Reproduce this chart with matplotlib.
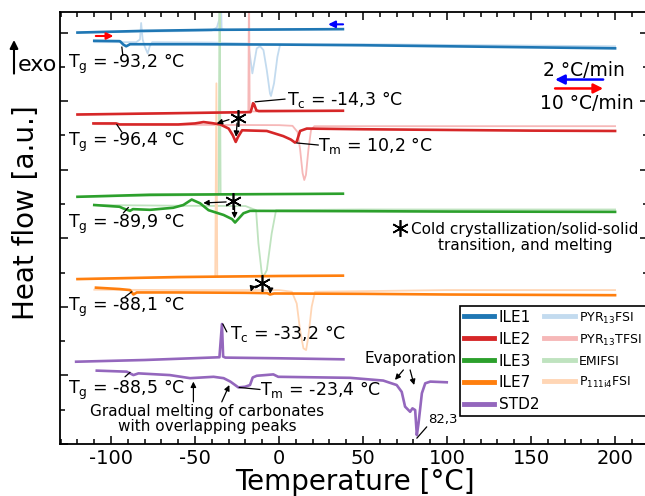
import numpy as np
import matplotlib
matplotlib.use('Agg')
import matplotlib.pyplot as plt
from matplotlib.ticker import MultipleLocator

plt.rcParams['axes.unicode_minus'] = False
plt.rcParams['font.family'] = ['DejaVu Sans']

## DATA (T in degC, heat flow in a.u.)

# ILE1 / PYR13FSI
ile1_cool_T = [-120, -80, -40, 0, 38]
ile1_cool_hf = [12.00, 12.05, 12.08, 12.09, 12.10]
ile1_heat_T = [-110, -95, -94.5, -92.7, -91, -88.7, -50, 0, 50, 100, 150, 200]
ile1_heat_hf = [11.76, 11.75, 11.74, 11.65, 11.60, 11.66, 11.66, 11.65, 11.63, 11.60, 11.57, 11.54]
pyr13fsi_cool_T = [-120, -60, -40, -37, -35.5, -34.8, -34.2, -32, 0, 38]
pyr13fsi_cool_hf = [12.00, 12.04, 12.06, 12.15, 12.40, 13.50, 12.10, 12.08, 12.09, 12.10]
pyr13fsi_heat_T = [-110, -85, -82.8, -82.1, -81.2, -80, -78.2, -77, -75.5, -40, -18.3, -15.9, -13.3,
                   -11.3, -9.3, -7.3, -5.4, -4.8, -3, -1, 0.6, 50, 100, 150, 200]
pyr13fsi_heat_hf = [11.72, 11.72, 11.80, 12.28, 11.80, 11.60, 11.39, 11.60, 11.72, 11.71, 11.68, 10.81, 11.54,
                    11.60, 11.49, 10.90, 10.22, 10.15, 10.52, 11.29, 11.65, 11.66, 11.64, 11.62, 11.60]

# ILE2 / PYR13TFSI
ile2_cool_T = [-120, -60, -17, -16.2, -15.5, -14.8, -13.5, -12, 38]
ile2_cool_hf = [9.61, 9.65, 9.68, 9.80, 9.94, 9.90, 9.73, 9.71, 9.72]
ile2_heat_T = [-110.5, -97, -95, -80, -60, -50, -45, -40, -35, -30, -27.5, -25.8, -24.5, -22, -15,
               -7.3, 2.5, 7, 9.5, 10.5, 12.5, 16.5, 50, 100, 150, 200]
ile2_heat_hf = [9.35, 9.35, 9.32, 9.32, 9.32, 9.35, 9.39, 9.36, 9.32, 9.20, 9.00, 8.81, 8.95, 9.15, 9.14,
                9.13, 8.98, 8.88, 8.79, 8.82, 9.13, 9.20, 9.18, 9.16, 9.14, 9.13]
pyr13tfsi_cool_T = [-120, -60, -18.3, -17.9, -17.5, -16, 38]
pyr13tfsi_cool_hf = [9.61, 9.65, 9.68, 13.5, 9.70, 9.70, 9.72]
pyr13tfsi_heat_T = [-110, -60, 0, 8, 11, 12.5, 14, 15, 16, 17.5, 19, 21, 100, 200]
pyr13tfsi_heat_hf = [9.33, 9.31, 9.30, 9.28, 9.10, 8.60, 7.90, 7.70, 7.85, 8.60, 9.15, 9.27, 9.27, 9.27]

# ILE3 / EMIFSI
ile3_cool_T = [-120, -77, 0, 38]
ile3_cool_hf = [7.21, 7.27, 7.29, 7.30]
ile3_heat_T = [-110, -95, -92.7, -88.7, -87, -76.8, -63, -57, -52, -47, -42, -33, -28, -26.2, -21.2,
               -17.3, 50, 100, 200]
ile3_heat_hf = [6.97, 6.92, 6.87, 6.80, 6.85, 6.83, 6.89, 6.97, 7.13, 7.02, 6.82, 6.68, 6.56, 6.46, 6.73,
                6.80, 6.79, 6.78, 6.77]
emifsi_cool_T = [-120, -60, -36, -35.4, -34.8, 0, 38]
emifsi_cool_hf = [7.21, 7.25, 7.27, 13.5, 7.28, 7.29, 7.30]
emifsi_heat_T = [-110, -60, -20, -13.7, -12.3, -10.3, -9.3, -7.3, -4.4, -1.8, 50, 200]
emifsi_heat_hf = [6.97, 6.95, 6.94, 6.82, 5.85, 4.98, 4.88, 5.07, 6.14, 6.82, 6.84, 6.84]

# ILE7 / P111i4FSI
ile7_cool_T = [-120, -60, 0, 38]
ile7_cool_hf = [4.81, 4.87, 4.90, 4.91]
ile7_heat_T = [-109, -95, -88.7, -86.7, -84.7, -60, -20, -7, -5.4, -3, 50, 100, 200]
ile7_heat_hf = [4.56, 4.52, 4.49, 4.36, 4.42, 4.42, 4.41, 4.40, 4.36, 4.39, 4.38, 4.36, 4.34]
p111i4fsi_cool_T = [-120, -60, -38, -37.3, -36.8, 0, 38]
p111i4fsi_cool_hf = [4.81, 4.86, 4.87, 10.52, 4.88, 4.90, 4.91]
p111i4fsi_heat_T = [-110, -60, 0, 7.6, 10.5, 12.5, 14.5, 16.1, 17.4, 19.4, 21.4, 100, 200]
p111i4fsi_heat_hf = [4.50, 4.49, 4.49, 4.44, 4.10, 3.32, 2.79, 2.74, 3.13, 4.00, 4.44, 4.49, 4.49]

# STD2
std2_cool_T = [-120.8, -80, -35.5, -34.0, -33.3, -32, 0, 38.3]
std2_cool_hf = [2.40, 2.45, 2.53, 3.50, 2.55, 2.52, 2.50, 2.47]
std2_heat_T = [-108.5, -90.7, -86.7, -83.7, -65, -53, -39, -33, -29, -24.2, -20.2, -17.3, -15.7, -13.3,
               -3.4, -0.5, 42.3, 62, 70, 73, 75, 78, 79.4, 81, 82, 83, 85, 87, 90, 99.8]
std2_heat_hf = [2.14, 2.11, 2.01, 2.06, 2.01, 1.92, 1.96, 1.92, 1.82, 1.65, 1.67, 1.72, 1.94, 1.99,
                2.03, 1.96, 1.93, 1.85, 1.72, 1.52, 1.09, 0.94, 1.04, 0.99, 0.26, 0.60, 1.48, 1.77, 1.82, 1.80]

#%%
## PLOT
fig = plt.figure(figsize=(6.45, 4.96), dpi=100)
ax = fig.add_axes([60/645, 52/496, 588/645, 432/496])

lw_d = 1.9
lw_l = 1.3
c_blue, c_red, c_green, c_orange, c_purple = '#1f77b4', '#d62728', '#2ca02c', '#ff7f0e', '#9467bd'
l_blue, l_red, l_green, l_orange = '#c3dbef', '#f6b8b8', '#bfe3bf', '#ffd6b5'

# light (pure IL) curves behind
h6, = ax.plot(pyr13fsi_cool_T, pyr13fsi_cool_hf, color=l_blue, lw=lw_l, label='PYR$_\\mathregular{13}$FSI')
ax.plot(pyr13fsi_heat_T, pyr13fsi_heat_hf, color=l_blue, lw=lw_l)
h7, = ax.plot(pyr13tfsi_cool_T, pyr13tfsi_cool_hf, color=l_red, lw=lw_l, label='PYR$_\\mathregular{13}$TFSI')
ax.plot(pyr13tfsi_heat_T, pyr13tfsi_heat_hf, color=l_red, lw=lw_l)
h8, = ax.plot(emifsi_cool_T, emifsi_cool_hf, color=l_green, lw=lw_l, label='EMIFSI')
ax.plot(emifsi_heat_T, emifsi_heat_hf, color=l_green, lw=lw_l)
h9, = ax.plot(p111i4fsi_cool_T, p111i4fsi_cool_hf, color=l_orange, lw=lw_l, label='P$_\\mathregular{111i4}$FSI')
ax.plot(p111i4fsi_heat_T, p111i4fsi_heat_hf, color=l_orange, lw=lw_l)

# electrolytes
h1, = ax.plot(ile1_cool_T, ile1_cool_hf, color=c_blue, lw=lw_d, label='ILE1')
ax.plot(ile1_heat_T, ile1_heat_hf, color=c_blue, lw=lw_d)
h2, = ax.plot(ile2_cool_T, ile2_cool_hf, color=c_red, lw=lw_d, label='ILE2')
ax.plot(ile2_heat_T, ile2_heat_hf, color=c_red, lw=lw_d)
h3, = ax.plot(ile3_cool_T, ile3_cool_hf, color=c_green, lw=lw_d, label='ILE3')
ax.plot(ile3_heat_T, ile3_heat_hf, color=c_green, lw=lw_d)
h4, = ax.plot(ile7_cool_T, ile7_cool_hf, color=c_orange, lw=lw_d, label='ILE7')
ax.plot(ile7_heat_T, ile7_heat_hf, color=c_orange, lw=lw_d)
h5, = ax.plot(std2_cool_T, std2_cool_hf, color=c_purple, lw=lw_d, label='STD2')
ax.plot(std2_heat_T, std2_heat_hf, color=c_purple, lw=lw_d)

ax.set_xlim(-130.4, 219.6)
ax.set_ylim(0, 12.6)
ax.xaxis.set_major_locator(MultipleLocator(50))
ax.xaxis.set_minor_locator(MultipleLocator(10))
ax.yaxis.set_major_locator(MultipleLocator(2))
ax.yaxis.set_minor_locator(MultipleLocator(1))
ax.tick_params(which='both', direction='in', top=True, right=True, width=1.1)
ax.tick_params(which='major', length=6, labelsize=14)
ax.tick_params(which='minor', length=3.5)
ax.set_yticklabels([])
for s in ax.spines.values():
    s.set_linewidth(1.3)

# axis labels + exo
fig.text(0.55, 0.013, 'Temperature [°C]', fontsize=20, ha='center', va='baseline')
fig.text(0.040, 0.571, 'Heat flow [a.u.]', fontsize=20, rotation=90, ha='center', va='center')
fig.text(0.027, 0.869, 'exo', fontsize=16, va='center')
ax.annotate('', xy=(0.0217, 0.925), xytext=(0.0217, 0.846), xycoords='figure fraction',
            arrowprops=dict(arrowstyle='-|>', lw=1.5, color='k', mutation_scale=12), annotation_clip=False)

fs = 12.5
def seg(x1, y1, x2, y2, head=False):
    ax.annotate('', xy=(x2, y2), xytext=(x1, y1),
                arrowprops=dict(arrowstyle='-|>' if head else '-', lw=0.9, color='k',
                                mutation_scale=8, shrinkA=0, shrinkB=0))

def star(x, y):
    ax.plot([x], [y], marker=(6, 2, 0), ms=12, mew=1.2, color='k', ls='none')

# Tg / Tc / Tm labels
ax.text(-125.6, 11.08, 'T$_\\mathregular{g}$ = -93,2 °C', fontsize=fs, va='center')
seg(-93.0, 11.34, -93.6, 11.58)
ax.text(-125.6, 8.80, 'T$_\\mathregular{g}$ = -96,4 °C', fontsize=fs, va='center')
seg(-93.6, 9.10, -96.6, 9.32)
ax.text(4.8, 10.06, 'T$_\\mathregular{c}$ = -14,3 °C', fontsize=fs, va='center')
seg(3.6, 10.06, -14.3, 9.98)
ax.text(23.4, 8.72, 'T$_\\mathregular{m}$ = 10,2 °C', fontsize=fs, va='center')
seg(23.4, 8.72, 10.5, 8.78)
ax.text(-125.6, 6.43, 'T$_\\mathregular{g}$ = -89,9 °C', fontsize=fs, va='center')
seg(-92.7, 6.74, -89.7, 6.90)
ax.text(-125.6, 4.00, 'T$_\\mathregular{g}$ = -88,1 °C', fontsize=fs, va='center')
seg(-91.7, 4.29, -87.7, 4.44)
ax.text(-29.2, 3.23, 'T$_\\mathregular{c}$ = -33,2 °C', fontsize=fs, va='center')
seg(-31.1, 3.27, -33.5, 3.50)
ax.text(-125.6, 1.59, 'T$_\\mathregular{g}$ = -88,5 °C', fontsize=fs, va='center')
seg(-91.7, 1.96, -88.7, 2.09)
ax.text(-11.3, 1.59, 'T$_\\mathregular{m}$ = -23,4 °C', fontsize=fs, va='center')
seg(-11.3, 1.59, -23.8, 1.65)

# asterisks with arrows
star(-24.2, 9.50)
seg(-29.8, 9.46, -37.1, 9.35, head=True)
seg(-25.0, 9.36, -25.6, 8.96, head=True)
star(-27.2, 7.09)
seg(-31.5, 7.06, -45.1, 7.03, head=True)
seg(-26.5, 6.94, -26.5, 6.58, head=True)
star(-10.3, 4.70)
ax.annotate('', xy=(-16.8, 4.44), xytext=(-12.3, 4.62),
            arrowprops=dict(arrowstyle='-|>', lw=0.9, color='k', mutation_scale=8,
                            shrinkA=0, shrinkB=0, connectionstyle='arc3,rad=0.35'))
ax.annotate('', xy=(-5.3, 4.38), xytext=(-8.3, 4.62),
            arrowprops=dict(arrowstyle='-|>', lw=0.9, color='k', mutation_scale=8,
                            shrinkA=0, shrinkB=0, connectionstyle='arc3,rad=-0.35'))
star(72.0, 6.29)
ax.text(146.4, 6.03, 'Cold crystallization/solid-solid\ntransition, and melting', fontsize=11,
        ha='center', va='center', linespacing=1.05)

# STD2 notes
ax.text(-42.6, 0.73, 'Gradual melting of carbonates\nwith overlapping peaks', fontsize=11,
        ha='center', va='center', linespacing=1.05)
seg(-51.0, 1.23, -51.0, 1.82, head=True)
seg(-34.1, 1.23, -29.6, 1.72, head=True)
ax.text(78.0, 2.50, 'Evaporation', fontsize=11, ha='center', va='center')
seg(74.0, 2.16, 69.0, 1.87, head=True)
seg(78.0, 2.16, 80.4, 1.72, head=True)
ax.text(88.7, 0.70, '82,3', fontsize=9.5, va='center')
seg(87.9, 0.50, 82.0, 0.17)

# scan rate arrows
ax.text(181.5, 10.90, '2 °C/min', fontsize=13.5, ha='center', va='center')
ax.text(183.3, 9.94, '10 °C/min', fontsize=13.5, ha='center', va='center')
ax.annotate('', xy=(164.3, 10.63), xytext=(192.9, 10.63),
            arrowprops=dict(arrowstyle='-|>', lw=1.8, color='#0000ff', mutation_scale=14, shrinkA=0, shrinkB=0))
ax.annotate('', xy=(192.9, 10.37), xytext=(164.3, 10.37),
            arrowprops=dict(arrowstyle='-|>', lw=1.8, color='#ff0000', mutation_scale=14, shrinkA=0, shrinkB=0))
ax.annotate('', xy=(29.2, 12.24), xytext=(38.1, 12.24),
            arrowprops=dict(arrowstyle='-|>', lw=1.5, color='#0000ff', mutation_scale=10, shrinkA=0, shrinkB=0))
ax.annotate('', xy=(-98.6, 11.90), xytext=(-109.1, 11.90),
            arrowprops=dict(arrowstyle='-|>', lw=1.5, color='#ff0000', mutation_scale=10, shrinkA=0, shrinkB=0))

# legend
handles = [h1, h2, h3, h4, h5, h6, h7, h8, h9]
leg = ax.legend(handles=handles, ncol=2, loc='upper left', bbox_to_anchor=(460/645, 190/496),
                bbox_transform=fig.transFigure, fontsize=11, frameon=True, fancybox=False,
                edgecolor='k', framealpha=1, borderaxespad=0, borderpad=0.25,
                handlelength=2.0, handletextpad=0.3, labelspacing=0.45, columnspacing=0.3)
leg.get_frame().set_linewidth(1.2)
for hl in leg.get_lines():
    hl.set_linewidth(3.5)
for t in leg.get_texts()[5:]:
    t.set_fontsize(9)

fig.savefig('out.png', dpi=100)
